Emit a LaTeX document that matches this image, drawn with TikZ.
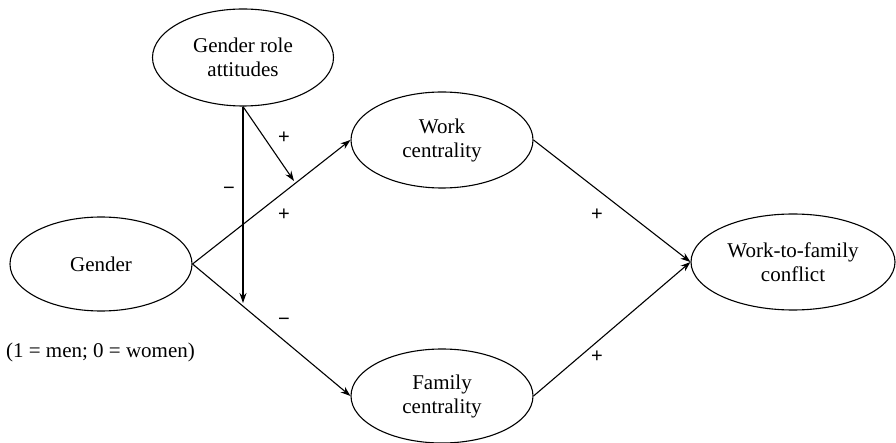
\documentclass[tikz,border=0pt]{standalone}
\usepackage{fontspec}
\setmainfont{Liberation Serif}
\newfontfamily\signfont{Liberation Sans}
\usetikzlibrary{shapes.geometric,arrows.meta}
\begin{document}
\begin{tikzpicture}[x=1pt,y=-1pt,
  var/.style={draw, ellipse, line width=1.1pt, inner sep=0pt, align=center,
    font=\fontsize{21}{24}\selectfont},
  conn/.style={line width=1.1pt, -{Stealth[length=10pt,width=7pt]}},
  sign/.style={font=\signfont\fontsize{20}{20}\selectfont, inner sep=0pt}]
\useasboundingbox (0,0) rectangle (896,443);
\node[var, minimum width=181pt, minimum height=97pt] (gra) at (243,57.5) {Gender role\\attitudes};
\node[var, minimum width=182pt, minimum height=94pt] (gen) at (101,264) {Gender};
\node[var, minimum width=182pt, minimum height=96pt] (wc) at (442,140) {Work\\centrality};
\node[var, minimum width=182pt, minimum height=94pt] (fc) at (442,396) {Family\\centrality};
\node[var, minimum width=204pt, minimum height=96pt] (wfc) at (793,262) {Work-to-family\\conflict};
\node[font=\fontsize{21}{24}\selectfont, inner sep=0pt] (note) at (100.5,352) {(1 = men; 0 = women)};
\coordinate (m1) at (294,181);
\coordinate (m2) at (243,303);
\draw[conn] (gen.east) -- (wc.west);
\draw[conn] (gen.east) -- (fc.west);
\draw[conn] (wc.east) -- (wfc.west);
\draw[conn] (fc.east) -- (wfc.west);
\draw[conn] (gra.south) -- (m1);
\draw[conn] (gra.south) -- (m2);
\node[sign] (s1) at (284,138) {+};
\node[sign] (s2) at (284,215) {+};
\node[sign] (s3) at (229,191) {−};
\node[sign] (s4) at (284,322) {−};
\node[sign] (s5) at (597,215) {+};
\node[sign] (s6) at (597,357) {+};
\end{tikzpicture}
\end{document}
